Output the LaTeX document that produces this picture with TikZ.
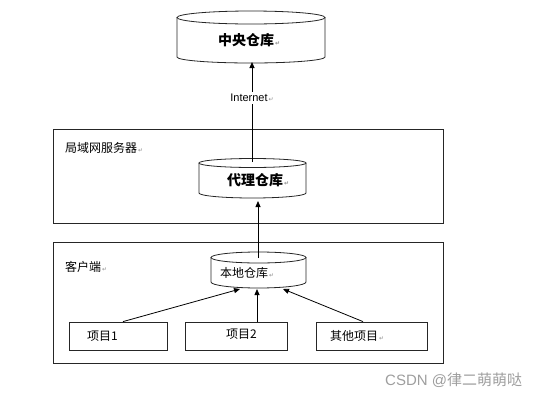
\documentclass[tikz,border=0pt]{standalone}
\usepackage{fontspec}
\setmainfont{Noto Sans CJK SC}
\newfontfamily\dejavu{DejaVu Sans}
\newfontfamily\libsans{Liberation Sans}
\usetikzlibrary{arrows.meta,calc}
\newcommand\parmk{{\dejavu\fontsize{6}{6}\selectfont\color{black!45}\,↵}}
\begin{document}
\begin{tikzpicture}[x=1pt,y=-1pt,
  frame/.style={draw=black!85, line width=0.8pt, inner sep=0pt},
  conn/.style={draw=black, line width=0.8pt},
  arr/.style={conn, -{Triangle[length=6pt,width=5pt]}},
  lbl/.style={anchor=west, inner sep=0pt, font=\fontsize{12}{12}\selectfont},
  blbl/.style={anchor=west, inner sep=0pt, font=\fontsize{14}{14}\selectfont\bfseries},
  cylbody/.style={draw=black!85, line width=0.8pt, fill=white},
  area/.style={anchor=center, inner sep=0pt}
]
\useasboundingbox (0,0) rectangle (539,397);

% group frames
\node[frame, minimum width=390pt, minimum height=94pt] (lan) at (248,176) {};
\node[frame, minimum width=390pt, minimum height=121pt] (client) at (248,302.5) {};
\node[lbl] (lanlbl) at (65,148) {局域网服务器\parmk};
\node[lbl] (clientlbl) at (65,267) {客户端\parmk};

% central repository cylinder
\path[cylbody] (177,17.5) -- (177,57)
  arc[start angle=180, end angle=360, x radius=74pt, y radius=6pt] -- (325,17.5);
\draw[cylbody] (251,17.5) ellipse [x radius=74pt, y radius=6.5pt];
\node[area, minimum width=148pt, minimum height=52pt] (central) at (251,37) {};
\node[blbl] (centrallbl) at (218,40) {中央仓库\parmk};

% proxy repository cylinder
\path[cylbody] (199,163) -- (199,193)
  arc[start angle=180, end angle=360, x radius=53.5pt, y radius=5pt] -- (306,163);
\draw[cylbody] (252.5,163) ellipse [x radius=53.5pt, y radius=4.5pt];
\node[area, minimum width=107pt, minimum height=40pt] (proxy) at (252.5,178) {};
\node[blbl] (proxylbl) at (227,180) {代理仓库\parmk};

% local repository cylinder
\path[cylbody] (211,257.5) -- (211,282)
  arc[start angle=180, end angle=360, x radius=47.5pt, y radius=6pt] -- (306,257.5);
\draw[cylbody] (258.5,257.5) ellipse [x radius=47.5pt, y radius=5.5pt];
\node[area, minimum width=95pt, minimum height=36pt] (local) at (258.5,270) {};
\node[lbl] (locallbl) at (220,273) {本地仓库\parmk};

% projects
\node[frame, minimum width=98pt, minimum height=28pt] (p1) at (118,336) {};
\node[frame, minimum width=102pt, minimum height=28pt] (p2) at (236,336) {};
\node[frame, minimum width=111pt, minimum height=28pt] (p3) at (371.5,336) {};
\node[lbl] (p1lbl) at (87,336) {项目1};
\node[lbl] (p2lbl) at (226,334) {项目2};
\node[lbl] (p3lbl) at (330,336) {其他项目\parmk};

% connectors
\coordinate (proxytop) at (252,162);
\coordinate (centralbot) at (252,62);
\coordinate (localtop) at (258,258);
\coordinate (proxybot) at (258,201);
\draw[arr] (proxytop) -- node[pos=0.64, fill=white, inner sep=2pt, font=\libsans\fontsize{11}{11}\selectfont] (inet) {Internet\parmk} (centralbot);
\draw[arr] (localtop) -- (proxybot);
\draw[arr] ([xshift=5pt]p1.north) -- (240,289);
\draw[arr] ([xshift=21pt]p2.north) -- (257,289);
\draw[arr] ([xshift=-8.5pt]p3.north) -- (283,289);

% watermark
\node[anchor=west, inner sep=0pt, text=black!38, font=\fontsize{15}{15}\selectfont] (wm) at (385,380) {{\libsans CSDN @}律二萌萌哒};
\end{tikzpicture}
\end{document}
